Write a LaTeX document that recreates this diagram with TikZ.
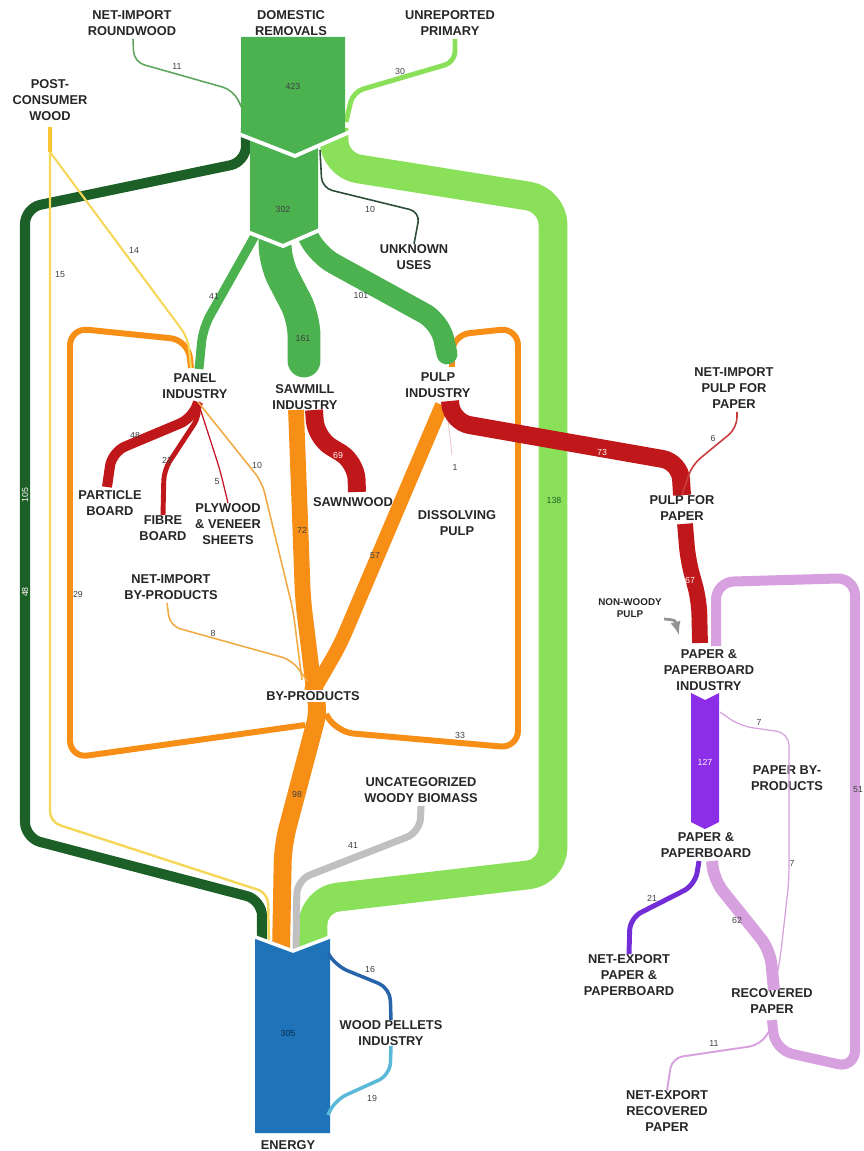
\documentclass[tikz,border=0pt]{standalone}
\usepackage{fontspec}
\setsansfont{Liberation Sans}
\usetikzlibrary{positioning}

\definecolor{green_mid}{RGB}{76,178,80}
\definecolor{green_dark}{RGB}{28,96,40}
\definecolor{green_light}{RGB}{138,224,88}
\definecolor{green_thin}{RGB}{95,165,95}
\definecolor{green_unknown}{RGB}{45,75,55}
\definecolor{yellow_pcw}{RGB}{245,215,90}
\definecolor{yellow_stub}{RGB}{250,195,50}
\definecolor{orange_byp}{RGB}{247,142,22}
\definecolor{orange_thin}{RGB}{240,170,70}
\definecolor{red_prod}{RGB}{192,24,26}
\definecolor{grey_unc}{RGB}{192,192,192}
\definecolor{blue_energy}{RGB}{30,115,185}
\definecolor{blue_pellet}{RGB}{40,100,170}
\definecolor{cyan_pellet}{RGB}{90,185,215}
\definecolor{purple_paper}{RGB}{140,45,232}
\definecolor{purple_export}{RGB}{115,45,215}
\definecolor{pink_rec}{RGB}{215,160,222}

\tikzset{>=latex}

\begin{document}
\begin{tikzpicture}[x=0.02cm, y=-0.02cm]

	\tikzstyle{label_box} = [align=center, inner sep=0pt, text=black!85, font=\sffamily\bfseries\fontsize{7.3}{9.1}\selectfont]
	\tikzstyle{label_small} = [align=center, inner sep=0pt, text=black!85, font=\sffamily\bfseries\fontsize{5.6}{7}\selectfont]
	\tikzstyle{value} = [inner sep=0pt, text=black!75, font=\sffamily\fontsize{5}{6}\selectfont]
	\tikzstyle{value_light} = [value, text=white!85!pink]
	\tikzstyle{flow} = [draw, line join=round, rounded corners=8pt]

	\useasboundingbox (0,0) rectangle (864,1151);

%------------------------------------------------------------
	\node[label_box] (roundwood) at (132,23) {NET-IMPORT\\ROUNDWOOD};
	\node[label_box] (domestic) at (291,23) {DOMESTIC\\REMOVALS};
	\node[label_box] (unreported) at (450,23) {UNREPORTED\\PRIMARY};
	\node[label_box] (postcons) at (50,100) {POST-\\CONSUMER\\WOOD};
	\node[label_box] (unknown) at (414,257) {UNKNOWN\\USES};

%------------------------------------------------------------

	\node[label_box] (panel) at (195,386) {PANEL\\INDUSTRY};
	\node[label_box] (sawmill) at (305,397) {SAWMILL\\INDUSTRY};
	\node[label_box] (pulp) at (438,385) {PULP\\INDUSTRY};
	\node[label_box] (particle) at (110,503) {PARTICLE\\BOARD};
	\node[label_box] (fibre) at (163,528) {FIBRE\\BOARD};
	\node[label_box] (plywood) at (228,524) {PLYWOOD\\\& VENEER\\SHEETS};
	\node[label_box] (sawnwood) at (353,502) {SAWNWOOD};
	\node[label_box] (dissolving) at (457,523) {DISSOLVING\\PULP};

%------------------------------------------------------------

	\node[label_box] (netimppulp) at (734,388) {NET-IMPORT\\PULP FOR\\PAPER};
	\node[label_box] (pulppaper) at (682,508) {PULP FOR\\PAPER};
	\node[label_box] (netimpbyp) at (171,587) {NET-IMPORT\\BY-PRODUCTS};
	\node[label_small] (nonwoody) at (630,608) {NON-WOODY\\PULP};
	\node[label_box] (ppindustry) at (709,670) {PAPER \&\\PAPERBOARD\\INDUSTRY};
	\node[label_box] (paperbyp) at (787,778) {PAPER BY-\\PRODUCTS};
	\node[label_box] (uncat) at (421,790) {UNCATEGORIZED\\WOODY BIOMASS};
	\node[label_box] (pp) at (706,845) {PAPER \&\\PAPERBOARD};

%------------------------------------------------------------

	\node[label_box] (netexppp) at (629,975) {NET-EXPORT\\PAPER \&\\PAPERBOARD};
	\node[label_box] (recovered) at (772,1001) {RECOVERED\\PAPER};
	\node[label_box] (pellets) at (391,1033) {WOOD PELLETS\\INDUSTRY};
	\node[label_box] (netexprec) at (667,1111) {NET-EXPORT\\RECOVERED\\PAPER};
	\node[label_box] (energy) at (288,1145) {ENERGY};

%------------------------------------------------------------
% end points of the flows

	\coordinate (dom_l) at (246,128);
	\coordinate (dom_r) at (334,128);
	\coordinate (blk_a) at (257,232);
	\coordinate (blk_b) at (275,232);
	\coordinate (blk_c) at (306,232);
	\coordinate (pcw) at (50,152);
	\coordinate (panel_in) at (191,368);
	\coordinate (pulp_in) at (452,367);
	\coordinate (panel_out) at (198,402);
	\coordinate (saw_out) at (305,410);
	\coordinate (pulp_out) at (442,405);
	\coordinate (byp_in) at (314,690);
	\coordinate (byp_l) at (305,725);
	\coordinate (byp_r) at (326,714);
	\coordinate (en_dg) at (262,948);
	\coordinate (en_y) at (269,948);
	\coordinate (en_o) at (281,952);
	\coordinate (en_g) at (296,952);
	\coordinate (en_lg) at (313,950);
	\coordinate (en_up) at (328,953);
	\coordinate (en_dn) at (328,1115);
	\coordinate (ind_in) at (716,646);
	\coordinate (ind_out) at (720,712);
	\coordinate (pp_out) at (706,858);
	\coordinate (rec_in) at (774,990);
	\coordinate (rec_out) at (772,1020);

%------------------------------------------------------------
% by-product loops

	\draw[flow, orange_byp, line width=3.4pt, rounded corners=10pt] (byp_l) -- (70,758) -- (70,328) -- (188,340) -- (panel_in);
	\draw[flow, orange_byp, line width=3.4pt, rounded corners=10pt] (byp_r) -- (336,732) -- (518,748) -- (518,328) -- (452,335) -- (pulp_in);

%------------------------------------------------------------
% primary wood

	\draw[flow, green_dark, line width=5.7pt, rounded corners=9pt] (dom_l) -- (246,162) -- (25,208) -- (25,838) -- (262,900) -- (en_dg);
	\draw[flow, yellow_pcw, line width=1.4pt, rounded corners=6pt] (pcw) -- (50,822) -- (268,893) -- (en_y);
	\draw[flow, yellow_pcw, line width=1.2pt, rounded corners=6pt] (pcw) -- (188,338) -- (panel_in);
	\draw[yellow_stub, line width=2.8pt] (postcons.south) ++(0,6) -- (pcw);
	\draw[flow, green_light, line width=16.4pt, rounded corners=14pt] (dom_r) -- (334,165) -- (553,200) -- (553,872) -- (313,900) -- (en_lg);
	\draw[flow, green_light, line width=2.8pt, rounded corners=6pt] (unreported.south) ++(5,3) -- (455,62) -- (353,92) -- (346,122);
	\draw[flow, green_thin, line width=0.9pt, rounded corners=6pt] (roundwood.south) ++(1,3) -- (134,62) -- (233,90) -- (242,108);
	\draw[flow, green_unknown, line width=0.9pt, rounded corners=6pt] (320,150) -- (322,188) -- (420,212) -- (unknown.north);

	\draw[flow, green_mid, line width=5.1pt, rounded corners=8pt] (blk_a) -- (203,328) -- (199,369);
	\draw[flow, green_mid, line width=18.7pt, rounded corners=10pt, line cap=round] (blk_b) -- (275,262) -- (304,318) -- (304,361);
	\draw[flow, green_mid, line width=11.9pt, rounded corners=10pt, line cap=round] (blk_c) -- (318,255) -- (440,322) -- (447,354);

	\fill[green_mid] (250,130) -- (318,130) -- (318,230) -- (283,245) -- (250,233) -- cycle;
	\fill[green_mid] (241,37) -- (345,37) -- (345,135) -- (295,155) -- (241,135) -- cycle;
	\draw[white, line width=2.2pt] (236,133) -- (295,156) -- (352,131);
	\draw[white, line width=2.2pt] (245,231) -- (283,246) -- (322,229);

%------------------------------------------------------------
% industries to products

	\draw[flow, red_prod, line width=5.7pt] (panel_out) -- (193,418) -- (112,452) -- (107,487);
	\draw[flow, red_prod, line width=2.8pt, rounded corners=6pt] (panel_out) -- (200,415) -- (164,470) -- (fibre.north);
	\draw[flow, red_prod!70!purple, line width=0.7pt, rounded corners=6pt] (panel_out) -- (220,470) -- (plywood.north);
	\draw[flow, orange_thin, line width=0.9pt, rounded corners=6pt] (panel_out) -- (262,482) -- (293,610) -- (302,680);
	\draw[flow, red_prod, line width=10.2pt, rounded corners=10pt] (saw_out) ++(9,0) -- (316,438) -- (356,462) -- (357,492);
	\draw[flow, orange_byp, line width=9pt, rounded corners=8pt] (saw_out) ++(-9,0) -- (303,600) -- (byp_in);
	\draw[flow, orange_byp, line width=8pt, rounded corners=8pt] (pulp_out) -- (340,645) -- (byp_in);
	\draw[flow, red_prod!25!white, line width=0.5pt] (pulp_out) ++(5,5) -- (452,455);
	\draw[flow, red_prod, line width=10.2pt, rounded corners=10pt] (pulp_out) ++(8,-4) -- (452,422) -- (680,462) -- (pulppaper.north);
	\draw[flow, orange_thin, line width=0.9pt, rounded corners=6pt] (netimpbyp.south) ++(-4,3) -- (170,626) -- (292,660) -- (byp_in);

%------------------------------------------------------------
% by-products to energy

	\draw[flow, orange_byp, line width=10.2pt, rounded corners=10pt] (byp_in) -- (320,705) -- (283,845) -- (en_o);
	\node[label_box, fill=white, inner sep=1pt] (byproducts) at (313,696) {BY-PRODUCTS};
	\draw[flow, grey_unc, line width=4pt, rounded corners=8pt] (uncat.south) ++(0,3) -- (420,832) -- (297,880) -- (en_g);

	\fill[blue_energy] (255,937) -- (293,950) -- (330,937) -- (330,1133) -- (255,1133) -- cycle;
	\draw[white, line width=2pt] (250,935) -- (293,951) -- (335,935);
	\draw[flow, blue_pellet, line width=2pt, rounded corners=7pt] (en_up) -- (336,966) -- (390,988) -- (pellets.north);
	\draw[flow, cyan_pellet, line width=2pt, rounded corners=7pt] (pellets.south) -- (390,1075) -- (335,1100) -- (en_dn);

%------------------------------------------------------------
% paper chain

	\draw[flow, red_prod!85!white, line width=0.9pt, rounded corners=6pt] (netimppulp.south) ++(3,3) -- (737,428) -- (692,465) -- (pulppaper.north);
	\draw[flow, pink_rec, line width=5.7pt, rounded corners=10pt] (rec_out) -- (775,1050) -- (855,1068) -- (855,578) -- (716,582) -- (ind_in);
	\draw[flow, red_prod, line width=9pt, rounded corners=8pt] (pulppaper.south) ++(3,3) -- (688,560) -- (699,600) -- (700,643);
	\draw[->, gray!85, line width=1.6pt] (664,619) .. controls (675,620) .. (679,635);

	\fill[purple_paper] (691,693) -- (705,700) -- (719,693) -- (719,822) -- (705,829) -- (691,822) -- cycle;
	\draw[flow, pink_rec, line width=0.7pt, rounded corners=7pt] (ind_out) -- (740,726) -- (789,733) -- (789,880) -- (780,960) -- (rec_in);
	\draw[flow, purple_export, line width=2.8pt, rounded corners=7pt] (pp_out) ++(-7,3) -- (695,885) -- (630,918) -- (netexppp.north);
	\draw[flow, pink_rec, line width=6.8pt, rounded corners=8pt] (pp_out) ++(6,3) -- (714,880) -- (770,950) -- (rec_in);
	\draw[flow, pink_rec, line width=1.1pt, rounded corners=6pt] (rec_out) ++(-2,10) -- (760,1045) -- (672,1058) -- (netexprec.north);

%------------------------------------------------------------
% values

	\node[value] (v_dom) at (293,86) {423};
	\node[value] (v_blk) at (283,209) {302};
	\node[value] (v_rw) at (177,66) {11};
	\node[value] (v_unrep) at (400,71) {30};
	\node[value] (v_unk) at (370,209) {10};
	\node[value] (v_pcw_panel) at (134,250) {14};
	\node[value] (v_pcw_en) at (60,275) {15};
	\node[value] (v_panel) at (214,296) {41};
	\node[value] (v_pulp) at (361,295) {101};
	\node[value] (v_saw) at (303,338) {161};
	\node[value_light, rotate=90] (v_dg1) at (25,495) {105};
	\node[value_light, rotate=90] (v_dg2) at (25,592) {48};
	\node[value] (v_part) at (135,435) {48};
	\node[value] (v_fib) at (167,460) {22};
	\node[value] (v_ply) at (217,482) {5};
	\node[value] (v_pan_byp) at (257,465) {10};
	\node[value_light] (v_sawn) at (338,455) {69};
	\node[value] (v_saw_byp) at (302,530) {72};
	\node[value] (v_pulp_byp) at (375,556) {57};
	\node[value] (v_diss) at (455,467) {1};
	\node[value_light] (v_pfp) at (602,452) {73};
	\node[value] (v_imppulp) at (713,438) {6};
	\node[value, text=green_dark] (v_lg) at (554,500) {138};
	\node[value_light] (v_pulp_ind) at (690,580) {67};
	\node[value] (v_loop_l) at (78,594) {29};
	\node[value] (v_impbyp) at (213,633) {8};
	\node[value] (v_loop_r) at (460,735) {33};
	\node[value] (v_pbyp1) at (759,722) {7};
	\node[value_light] (v_paper) at (705,762) {127};
	\node[value] (v_byp_en) at (297,794) {98};
	\node[value] (v_unc) at (353,845) {41};
	\node[value] (v_pbyp2) at (792,863) {7};
	\node[value] (v_recloop) at (858,790) {51};
	\node[value] (v_exp) at (652,898) {21};
	\node[value] (v_rec) at (737,920) {62};
	\node[value, text=blue_energy!40!black] (v_en) at (288,1033) {305};
	\node[value] (v_pel1) at (370,969) {16};
	\node[value] (v_pel2) at (372,1098) {19};
	\node[value] (v_exprec) at (714,1043) {11};

\end{tikzpicture}
\end{document}
